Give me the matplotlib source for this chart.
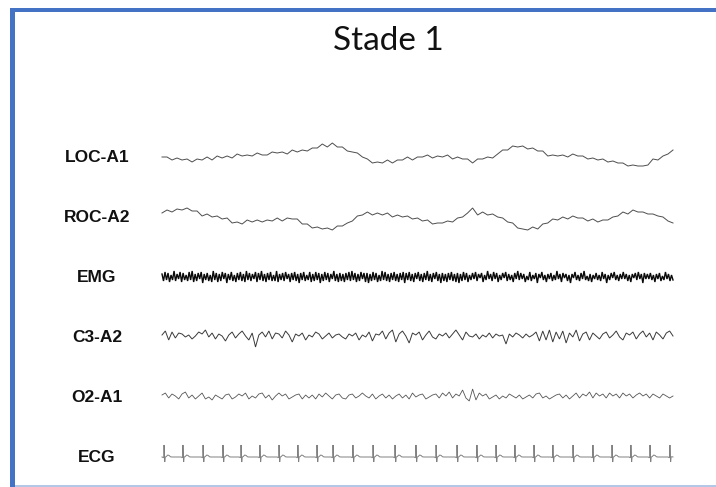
import numpy as np
import matplotlib
matplotlib.use("Agg")
import matplotlib.pyplot as plt
from matplotlib.patches import Rectangle

# ---------------- data (amplitudes, arbitrary units; epoch of 30 s) ----------------
title = "Stade 1"
channels = ["LOC-A1", "ROC-A2", "EMG", "C3-A2", "O2-A1", "ECG"]
epoch_s = 30.0

loc_a1 = [0, 0, -3, -1, -3, -2, -5, -2, -3, 0,
          -3, 1, -1, 1, -1, 3, 1, 2, 1, 4,
          2, 2, 5, 4, 5, 3, 7, 5, 7, 6,
          9, 9, 13, 10, 14, 10, 10, 6, 5, 4,
          0, -2, -6, -5, -6, -3, -6, -3, -3, 0,
          -3, 0, 0, 2, -1, 1, 0, 2, -2, 0,
          -2, -2, -6, -2, -2, 0, -1, 3, 7, 7,
          11, 10, 11, 8, 9, 6, 6, 1, 2, 1,
          2, 0, 3, 1, 1, -2, -1, -3, -2, -5,
          -4, -6, -6, -9, -8, -9, -9, -8, -2, -3,
          1, 3, 7]

roc_a2 = [4, 7, 5, 8, 7, 9, 6, 6, 1, 3,
          0, 1, -2, -1, -6, -5, -7, -3, -5, -3,
          -5, -3, -4, -1, -4, -1, -2, -2, -7, -7,
          -11, -10, -12, -11, -13, -9, -9, -6, -4, 1,
          2, 5, 2, 4, 2, 4, 0, 2, 0, 1,
          -2, -1, -4, -3, -7, -6, -6, -4, -5, -1,
          0, 4, 9, 2, 5, 2, 3, 0, -1, -5,
          -6, -11, -12, -13, -10, -12, -7, -6, -2, -3,
          0, -2, 1, -1, -1, -4, -2, -5, -3, -3,
          0, 1, 5, 3, 7, 5, 5, 3, 3, 1,
          0, -4, -6]

emg = [3, -4, 5, -3, 4, -5, 2, -3, 6, -4, 3, -2, 5, -5, 4, -3, 2,
       -4, 5, -3, 6, -5, 3, -4, 4, -2, 5, -6, 3, -3, 4, -4, 2, -5,
       6, -3, 4, -5, 3, -4, 5, -2, 4, -6, 3, -3, 5, -4, 2, -5, 4,
       -3, 5, -4, 3, -5, 6, -3, 4, -4, 3, -2, 5, -5, 4, -3, 6, -4,
       3, -5, 4, -3, 5, -4, 2, -4, 6, -5, 3, -3, 4, -4, 5, -2, 3,
       -5, 4, -3, 5, -4, 3, -6, 4, -3, 5, -4, 2, -3, 5, -5, 3, -4,
       5, -3, 4, -6, 3, -4, 5, -3, 4, -5, 3, -2, 6, -4, 3, -5, 4,
       -4, 3, -5, 4, -3, 5, -4, 6, -3, 4, -5, 3, -4, 5, -2, 4, -5,
       4, -6, 3, -4, 5, -3, 4, -5, 2, -4, 6, -3, 5, -4, 3, -5, 4,
       -3, 5, -4, 3, -5, 4, -3, 5, -6, 4, -3, 5, -4, 3, -5, 4, -2,
       5, -4, 3, -5, 4, -3, 6, -4, 3, -5, 4, -2, 5, -4, 3, -6, 4,
       -4, 3, -5, 4, -3, 5, -4, 3, -5, 4, -6, 3, -4, 5, -3, 4, -5,
       2, -3, 4, -2, 5, -4, 3, -1, 4, -5, 2, -3, 6, -2, 3, -4, 5,
       -2, 4, -5, 2, -3, 4, -1, 5, -4, 3, -3, 2, -5, 4, -2, 6, -3,
       4, -2, 3, -5, 1, -3, 5, -4, 2, -2, 4, -6, 3, -1, 5, -3, 2,
       -5, 3, -2, 4, -4, 2, -3, 6, -2, 3, -5, 4, -1, 3, -4, 2, -6,
       3, -1, 5, -3, 2, -4, 4, -2, 6, -3, 1, -4, 3, -5, 2, -2, 4,
       -3, 2, -4, 5, -2, 3, -6, 2, -3, 4, -1, 5, -3, 2, -4, 3, -2,
       5, -2, 3, -4, 2, -5, 3, -1, 4, -3, 5, -2, 3, -6, 4, -2, 3,
       -2, 4, -3, 2, -5, 3, -2, 4, -4, 1, -3, 5, -2, 3, -4, 2, -3]

c3_a2 = [2, 6, -3, 5, -1, 4, 3, 0, 2, -2, 1,
         5, 3, 7, 0, 4, -2, 3, 1, -4, 2, 5,
         -1, 3, 6, 1, -3, 4, -10, 2, 5, 0, 6,
         -2, 4, 3, -1, 6, 2, -5, 3, 1, 4, -3,
         2, 0, 5, 3, -2, 1, 4, -1, 2, 3, 0,
         -2, 3, 1, 4, -3, 2, 0, 5, -4, 3, 2,
         6, -2, 4, 7, -5, 3, 6, 1, -6, 4, 2,
         5, -3, 2, 6, 0, -2, 3, 1, 4, -1, 3,
         7, 2, -3, 5, 1, 0, 3, -2, 2, 0, 4,
         -1, 3, 1, 2, -7, 3, 0, 4, 2, -1, 3,
         0, 2, 5, -4, 6, -3, 7, -5, 5, -2, 6,
         -6, 4, 0, 7, -4, 3, 5, -3, 4, 1, -2,
         3, 5, -1, 2, 6, 0, -3, 4, 2, 5, -2,
         3, 6, 0, 4, -3, 5, 2, -2, 4, 6, 1]

o2_a1 = [2, 4, -1, 3, 1, -2, 3, 5, -1, 2, -2,
         1, 4, -2, 0, -3, 2, 0, -2, 2, 3, -2,
         0, 3, 1, 4, -2, 1, -1, 3, 4, -1, 2,
         -3, 1, 4, 1, 3, -2, 0, 2, 3, -2, 2,
         -1, 2, -2, 3, 0, 4, 1, -2, 2, 3, -1,
         -2, 2, 3, -1, 1, 4, 1, -1, 3, -2, 1,
         3, -1, 2, -2, 1, 3, -1, 2, -2, 4, 0,
         2, 3, -2, 0, 2, 3, -1, 4, 1, 5, -1,
         3, 1, 7, -1, -4, 8, -3, 4, 1, 3, -2,
         0, 2, -2, 1, -1, 3, 1, -1, 2, -2, 0,
         2, -1, 3, 4, -1, 1, -2, 0, 2, 3, -1,
         2, -2, 1, 4, -1, 3, 1, 5, -1, 4, 1,
         3, -1, 4, 1, 3, -1, 4, 1, 3, -1, 2,
         4, 1, 3, -1, 3, 1, -1, 3, 1, -1, 1]

ecg_beats_s = [0.12, 1.23, 2.41, 3.58, 4.64, 5.75, 6.87, 7.98, 9.10, 10.04,
               11.21, 12.39, 13.68, 14.91, 16.09, 17.32, 18.49, 19.61, 20.72,
               21.84, 22.95, 24.13, 25.30, 26.42, 27.53, 28.65, 29.82]
beat_dt = [-0.10, -0.04, -0.02, 0.0, 0.04, 0.07, 0.12, 0.22, 0.30, 0.38, 0.46]
beat_amp = [0.0, -0.8, 0.0, 12.0, -5.0, 0.0, 0.3, 2.0, 1.5, 0.2, 0.0]

# ---------------- figure ----------------
W, H = 716, 487
fig = plt.figure(figsize=(W / 100, H / 100), dpi=100)
fig.patch.set_facecolor("white")

ax = fig.add_axes([0, 0, 1, 1])
ax.set_axis_off()
x0_px, x1_px = 162, 673
sec_per_px = epoch_s / (x1_px - x0_px)
ax.set_xlim(-x0_px * sec_per_px, (W - x0_px) * sec_per_px)
spacing = 60.0
top_center_px = 157
ax.set_ylim(-(H - top_center_px), top_center_px)

styles = {
    "LOC-A1": dict(color="#4d4d4d", lw=0.7),
    "ROC-A2": dict(color="#4d4d4d", lw=0.7),
    "EMG": dict(color="#0a0a0a", lw=1.0),
    "C3-A2": dict(color="#3a3a3a", lw=0.7),
    "O2-A1": dict(color="#555555", lw=0.6),
    "ECG": dict(color="#808080", lw=0.7),
}

series = {"LOC-A1": loc_a1, "ROC-A2": roc_a2, "EMG": emg,
          "C3-A2": c3_a2, "O2-A1": o2_a1}

for i, name in enumerate(channels):
    off = -spacing * i
    if name == "ECG":
        t_list = [0.0]
        v_list = [0.0]
        for b in ecg_beats_s:
            for dt, a in zip(beat_dt, beat_amp):
                t = b + dt
                if 0.0 <= t <= epoch_s:
                    t_list.append(t)
                    v_list.append(a)
        t_list.append(epoch_s)
        v_list.append(0.0)
        t = np.array(t_list)
        v = np.array(v_list)
    else:
        v = np.array(series[name], dtype=float)
        t = np.linspace(0, epoch_s, len(v))
    ax.plot(t, v + off, solid_joinstyle="miter", **styles[name])
    ax.text((97 - x0_px) * sec_per_px, off, name, ha="center", va="center",
            fontsize=12.5, fontweight="bold", family="Liberation Sans", color="#111111")

fig.text(388 / W, 1 - 41 / H, title, ha="center", va="center",
         fontsize=24, family="Lato", color="#111111")

# frame decoration (blue border)
blue = "#4472C4"
fig.patches.append(Rectangle((10 / W, 0), 5 / W, (H - 8) / H, transform=fig.transFigure,
                             color=blue, lw=0))
fig.patches.append(Rectangle((10 / W, 1 - 12 / H), (W - 10) / W, 4 / H, transform=fig.transFigure,
                             color=blue, lw=0))
fig.patches.append(Rectangle((15 / W, 0), (W - 15) / W, 2 / H, transform=fig.transFigure,
                             color="#B4C7E7", lw=0))

fig.savefig("out.png", dpi=100, facecolor="white")
